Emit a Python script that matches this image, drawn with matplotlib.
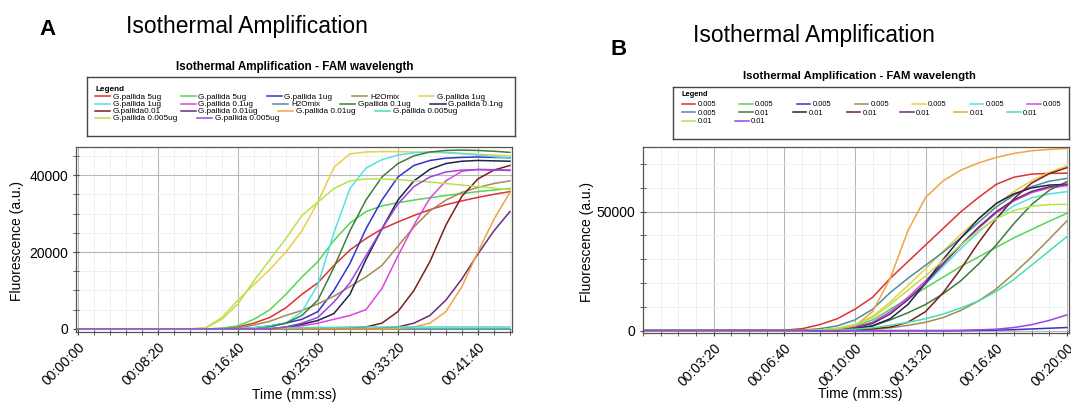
import matplotlib.pyplot as plt
from matplotlib.legend import Legend
from matplotlib.ticker import MultipleLocator, FuncFormatter

plt.rcParams['font.family'] = ['Liberation Sans', 'DejaVu Sans']

# ---- panel A data (time in s, fluorescence in thousands a.u.) ----
time_a = [0, 700, 800, 900, 1000, 1100, 1200, 1300, 1400, 1500, 1600, 1700,
          1800, 1900, 2000, 2100, 2200, 2300, 2400, 2500, 2600, 2700]
a_red = [0, 0, 0, 0.1, 0.5, 1.5, 3, 5.5, 9, 12, 16.5, 20.5, 23.5, 26, 27.8, 29.5, 31, 32.3, 33.3, 34.2, 35, 35.7]
a_lgreen = [0, 0, 0, 0.2, 0.8, 2.5, 5, 9, 13.5, 17.5, 23, 27.5, 30.5, 32, 32.8, 33.5, 34.1, 34.7, 35.2, 35.7, 36.1, 36.5]
a_blue = [0, 0, 0, 0, 0, 0.3, 0.8, 1.5, 2.5, 4.5, 10, 17, 26, 33.5, 39.5, 42.5, 43.8, 44.4, 44.6, 44.7, 44.6, 44.5]
a_olive = [0, 0, 0, 0, 0.3, 1, 2, 3.5, 4.8, 6.5, 8.5, 11, 13.5, 16.5, 21.5, 26.5, 30.7, 33.5, 35.5, 36.8, 37.8, 38.5]
a_yellow = [0, 0, 0.3, 3, 7.5, 11.5, 15.5, 20, 25.5, 33, 42, 45.5, 46, 46.1, 46.1, 46, 45.9, 45.8, 45.6, 45.4, 45.2, 45]
a_cyan = [0, 0, 0, 0, 0, 0.3, 0.8, 1.5, 4.5, 11.5, 25, 36.5, 41.8, 44, 45.2, 45.8, 46, 45.9, 45.6, 45.2, 44.8, 44.4]
a_magenta = [0, 0, 0, 0, 0, 0, 0, 0.3, 0.8, 1.5, 2.5, 3.5, 5, 10.5, 19, 27, 34, 38.5, 41, 41.5, 41.4, 41.3]
a_steel = [0, 0, 0, 0, 0, 0, 0, 0, 0, 0, 0, 0, 0, 0, 0, 0, 0, 0, 0, 0, 0, 0]
a_dgreen = [0, 0, 0, 0, 0, 0, 0.5, 1.5, 3.5, 7.5, 16, 25.5, 33.5, 39.5, 43, 45, 46, 46.4, 46.5, 46.4, 46.2, 45.9]
a_navy = [0, 0, 0, 0, 0, 0, 0, 0.5, 1.2, 2.2, 4, 9, 18, 26, 33.5, 38.5, 41.5, 43, 43.6, 43.8, 43.7, 43.6]
a_dbrown = [0, 0, 0, 0, 0, 0, 0, 0, 0, 0, 0, 0.2, 0.5, 1.5, 4.5, 10, 17.5, 27, 34.5, 39, 41.3, 42.5]
a_dpurple = [0, 0, 0, 0, 0, 0, 0, 0, 0, 0, 0, 0, 0, 0.2, 0.5, 1.5, 3.5, 7.5, 13, 19.5, 25.5, 30.5]
a_orange = [0, 0, 0, 0, 0, 0, 0, 0, 0, 0, 0, 0, 0, 0, 0.1, 0.5, 1.5, 4.5, 11, 20, 28.5, 35.5]
a_aqua = [0, 0, 0, 0, 0, 0.1, 0.2, 0.3, 0.3, 0.4, 0.4, 0.5, 0.5, 0.5, 0.5, 0.5, 0.5, 0.5, 0.5, 0.5, 0.5, 0.5]
a_ygreen = [0, 0, 0.3, 2.5, 6.5, 12.5, 18, 23.5, 29.5, 33, 36.5, 38.5, 39, 39, 38.8, 38.5, 38.2, 37.8, 37.4, 37, 36.6, 36.2]
a_violet = [0, 0, 0, 0, 0, 0, 0, 0.5, 1.5, 3, 7, 12, 19, 26, 32.5, 37, 39.5, 40.8, 41.3, 41.4, 41.3, 41.2]

labels_a = ["G.pallida 5ug", "G.pallida 5ug", "G.pallida 1ug", "H2Omix", "G.pallida 1ug",
            "G.pallida 1ug", "G.pallida 0.1ug", "H2Omix", "Gpallida 0.1ug", "G.pallida 0.1ng",
            "G.pallida0.01", "G.pallida 0.01ug", "G.pallida 0.01ug", "G.pallida 0.005ug",
            "G.pallida 0.005ug", "G.pallida 0.005ug"]

# ---- panel B data ----
time_b = [0, 400, 450, 500, 550, 600, 650, 700, 750, 800, 850, 900, 950, 1000, 1050, 1100, 1150, 1200]
b_red = [0, 0.2, 0.8, 2.5, 5, 9, 14, 22, 29, 36, 43, 50, 56, 61.5, 64.5, 65.8, 66.1, 66.2]
b_lgreen = [0, 0, 0, 0.2, 0.8, 2, 4.5, 9, 13.5, 18, 22.5, 27, 31, 35, 39, 42.5, 46, 49.3]
b_blue = [0, 0, 0, 0, 0, 0, 0, 0, 0, 0, 0, 0, 0.1, 0.2, 0.4, 0.7, 1, 1.3]
b_olive = [0, 0, 0, 0, 0, 0.2, 0.5, 1.2, 2.2, 3.5, 5.5, 8.5, 12.5, 17.5, 24, 31, 38.5, 46.1]
b_yellow = [0, 0, 0, 0.3, 1, 2.5, 6, 12, 19, 26, 33.5, 40.5, 47, 53, 58.5, 63, 66.5, 69.3]
b_cyan = [0, 0, 0, 0.2, 0.6, 1.5, 3.5, 7.5, 13, 19.5, 27, 34.5, 41.5, 47.5, 52.5, 55.8, 57.5, 58.4]
b_magenta = [0, 0, 0, 0.2, 0.6, 1.5, 3.5, 8, 14, 21, 28.5, 36, 43, 49.5, 54.5, 58, 60, 60.9]
b_steel = [0, 0, 0.2, 0.8, 2, 4.5, 9, 16, 22, 27.5, 33, 39, 45.5, 52, 57, 60.5, 62.8, 64]
b_dgreen = [0, 0, 0, 0, 0.3, 0.8, 2, 4.5, 7.5, 11, 15.5, 21, 28, 36, 45, 53, 59, 62.6]
b_navy = [0, 0, 0, 0, 0.3, 0.8, 2, 5, 11, 20, 30, 39, 47, 53.5, 57.5, 60, 61.2, 61.5]
b_dred = [0, 0, 0, 0, 0, 0.3, 0.8, 1.5, 3.5, 8, 16, 26, 37, 47, 55.5, 62, 66, 68.5]
b_dpurple = [0, 0, 0, 0.2, 0.5, 1.2, 3, 7, 13, 20, 28, 36, 43.5, 50, 55, 58.5, 60.5, 61.5]
b_orange = [0, 0, 0, 0.2, 0.6, 2, 8, 22, 42, 56, 63, 67.5, 70.5, 72.8, 74.5, 75.6, 76.2, 76.6]
b_aqua = [0, 0, 0, 0, 0.2, 0.6, 1.2, 2.2, 3.5, 5, 7, 9.5, 12.5, 16.5, 21.5, 27.5, 33.5, 39.5]
b_ygreen = [0, 0, 0, 0.3, 1, 2.5, 5.5, 11, 17, 23, 29.5, 36, 42, 47, 50.5, 52.3, 53, 53.1]
b_violet = [0, 0, 0, 0, 0, 0, 0, 0, 0, 0, 0, 0.1, 0.3, 0.6, 1.3, 2.5, 4.3, 6.6]

labels_b = ["0.005"] * 8 + ["0.01"] * 8

# same colour cycle in both panels
colors = ['#dc3232', '#55d455', '#3434c4', '#a48a52', '#e8d048', '#52e2e2', '#e044dc', '#4a8ea0',
          '#3e7c3e', '#22224e', '#7a1e1e', '#6c2c7a', '#f0a444', '#44e0b4', '#b8e24a', '#9a44e2']

series_a = [a_red, a_lgreen, a_blue, a_olive, a_yellow, a_cyan, a_magenta, a_steel,
            a_dgreen, a_navy, a_dbrown, a_dpurple, a_orange, a_aqua, a_ygreen, a_violet]
series_b = [b_red, b_lgreen, b_blue, b_olive, b_yellow, b_cyan, b_magenta, b_steel,
            b_dgreen, b_navy, b_dred, b_dpurple, b_orange, b_aqua, b_ygreen, b_violet]

W, H = 1071, 403


def px_rect(left, top, right, bottom):
    """pixel box -> figure fraction rect"""
    return [left / W, 1 - bottom / H, (right - left) / W, (bottom - top) / H]


def hms(s, pos):
    s = int(round(s))
    return "%02d:%02d:%02d" % (s // 3600, s % 3600 // 60, s % 60)


def style_axes(ax):
    ax.grid(which='major', color='#b8b8b8', linewidth=0.8)
    ax.grid(which='minor', color='#ececec', linewidth=0.6)
    ax.set_axisbelow(True)
    for sp in ax.spines.values():
        sp.set_color('#555555')
        sp.set_linewidth(0.9)
    ax.tick_params(which='both', direction='inout', length=4, color='#444444', labelsize=10)
    ax.xaxis.set_major_formatter(FuncFormatter(hms))
    plt.setp(ax.get_xticklabels(), rotation=45, ha='right', rotation_mode='anchor')


def draw_legend(fig, rect, lines, labels, rows, row_y, title_xy, fs, hl, cs):
    lax = fig.add_axes(rect)
    lax.set_xticks([])
    lax.set_yticks([])
    lax.set_xlim(0, 1)
    lax.set_ylim(0, 1)
    for sp in lax.spines.values():
        sp.set_color('#444444')
        sp.set_linewidth(1.0)
    lax.text(title_xy[0], title_xy[1], "Legend", fontsize=fs, fontweight='bold',
             ha='left', va='center', transform=lax.transAxes)
    # one legend per row, so that each row flows with its own widths
    start = 0
    for n, y in zip(rows, row_y):
        leg = Legend(lax, lines[start:start + n], labels[start:start + n], ncol=n,
                     loc='center left', bbox_to_anchor=(title_xy[0], y),
                     frameon=False, fontsize=fs, handlelength=hl, handletextpad=0.3,
                     columnspacing=cs, borderpad=0, borderaxespad=0)
        lax.add_artist(leg)
        start += n


fig = plt.figure(figsize=(W / 100, H / 100), dpi=100)

# ---------------- panel A ----------------
ax_a = fig.add_axes(px_rect(76, 147, 512, 332))
lines_a = []
for vals, c in zip(series_a, colors):
    ln, = ax_a.plot(time_a, [v * 1000 for v in vals], color=c, linewidth=1.1)
    lines_a.append(ln)
ax_a.set_xlim(-12, 2713)
ax_a.set_ylim(-800, 47300)
ax_a.xaxis.set_major_locator(MultipleLocator(500))
ax_a.xaxis.set_minor_locator(MultipleLocator(100))
ax_a.yaxis.set_major_locator(MultipleLocator(20000))
ax_a.yaxis.set_minor_locator(MultipleLocator(5000))
style_axes(ax_a)
ax_a.set_xlabel("Time (mm:ss)", fontsize=10)
ax_a.set_ylabel("Fluorescence (a.u.)", fontsize=10)
ax_a.xaxis.set_label_coords(0.5, -0.30)
ax_a.yaxis.set_label_coords(-0.12, 0.49)

fig.text(48 / W, 1 - 35 / H, "A", fontsize=16, fontweight='bold', ha='center', va='baseline')
fig.text(126 / W, 1 - 33 / H, "Isothermal Amplification", fontsize=16.5, ha='left', va='baseline')
fig.text(295 / W, 1 - 70 / H, "Isothermal Amplification - FAM wavelength", fontsize=8.4,
         fontweight='bold', ha='center', va='baseline')
draw_legend(fig, px_rect(87, 77, 515, 136), lines_a, labels_a, [5, 5, 4, 2],
            [(136 - y) / 59 for y in (97, 104.5, 111.5, 118.5)], (8 / 428, (136 - 89) / 59),
            5.9, 1.85, 2.45)

# ---------------- panel B ----------------
ax_b = fig.add_axes(px_rect(643, 147, 1069, 333))
lines_b = []
for vals, c in zip(series_b, colors):
    ln, = ax_b.plot(time_b, [v * 1000 for v in vals], color=c, linewidth=1.1)
    lines_b.append(ln)
ax_b.set_xlim(0, 1206)
ax_b.set_ylim(-1000, 77200)
ax_b.set_xticks(range(200, 1201, 200))
ax_b.xaxis.set_minor_locator(MultipleLocator(50))
ax_b.yaxis.set_major_locator(MultipleLocator(50000))
ax_b.yaxis.set_minor_locator(MultipleLocator(10000))
style_axes(ax_b)
ax_b.set_xlabel("Time (mm:ss)", fontsize=10)
ax_b.set_ylabel("Fluorescence (a.u.)", fontsize=10)
ax_b.xaxis.set_label_coords(0.51, -0.29)
ax_b.yaxis.set_label_coords(-0.115, 0.49)

fig.text(619 / W, 1 - 55 / H, "B", fontsize=16, fontweight='bold', ha='center', va='baseline')
fig.text(693 / W, 1 - 42 / H, "Isothermal Amplification", fontsize=16.5, ha='left', va='baseline')
fig.text(859 / W, 1 - 79 / H, "Isothermal Amplification - FAM wavelength", fontsize=8.2,
         fontweight='bold', ha='center', va='baseline')
draw_legend(fig, px_rect(673, 87, 1069, 139), lines_b, labels_b, [7, 7, 2],
            [(139 - y) / 52 for y in (104.5, 113, 121.5)], (8.7 / 396, (139 - 95) / 52),
            5.4, 1.8, 3.1)

fig.savefig("out.png", dpi=100)
